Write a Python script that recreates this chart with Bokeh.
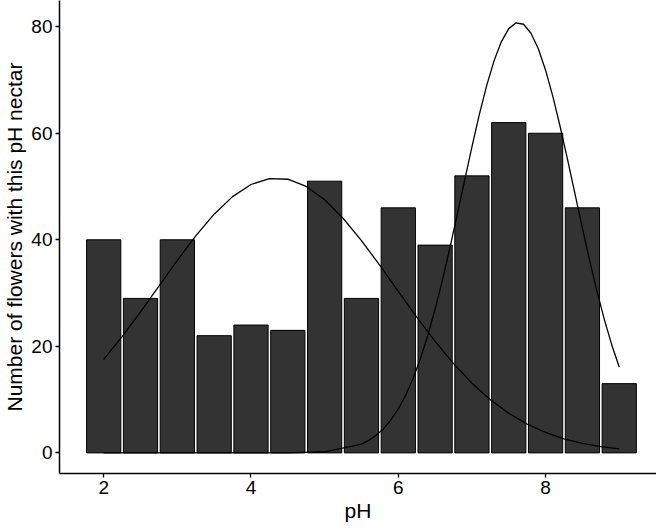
from bokeh.plotting import figure
from bokeh.models import Range1d, FixedTicker
from bokeh.embed import file_html
from bokeh.resources import INLINE

# Histogram bins (bin centres, binwidth 0.5) and counts
bin_centers = [2.0, 2.5, 3.0, 3.5, 4.0, 4.5, 5.0, 5.5, 6.0, 6.5, 7.0, 7.5, 8.0, 8.5, 9.0]
counts = [40, 29, 40, 22, 24, 23, 51, 29, 46, 39, 52, 62, 60, 46, 13]

# First fitted curve
curve1_x = [2.0, 2.25, 2.5, 2.75, 3.0, 3.25, 3.5, 3.75, 4.0, 4.25, 4.5, 4.75, 5.0, 5.25,
            5.5, 5.75, 6.0, 6.25, 6.5, 6.75, 7.0, 7.25, 7.5, 7.75, 8.0, 8.25, 8.5, 8.75, 9.0]
curve1_y = [17.55, 21.81, 26.45, 31.30, 36.15, 40.74, 44.81, 48.10, 50.38, 51.50, 51.37,
            50.01, 47.51, 44.05, 39.86, 35.19, 30.32, 25.50, 20.92, 16.76, 13.09, 9.98,
            7.43, 5.40, 3.83, 2.65, 1.79, 1.18, 0.76]

# Second fitted curve
curve2_x = [2.0, 2.5, 3.0, 3.5, 4.0, 4.5, 5.0, 5.5, 5.6, 5.7, 5.8, 5.9, 6.0, 6.1, 6.2,
            6.3, 6.4, 6.5, 6.6, 6.7, 6.8, 6.9, 7.0, 7.1, 7.2, 7.3, 7.4, 7.5, 7.6, 7.7,
            7.8, 7.9, 8.0, 8.1, 8.2, 8.3, 8.4, 8.5, 8.6, 8.7, 8.8, 8.9, 9.0]
curve2_y = [0.0, 0.0, 0.0, 0.0, 0.001, 0.018, 0.21, 1.64, 2.35, 3.30, 4.55, 6.18, 8.25,
            10.82, 13.95, 17.68, 22.03, 26.99, 32.48, 38.44, 44.71, 51.12, 57.46, 63.48,
            68.94, 73.59, 77.21, 79.64, 80.74, 80.46, 78.82, 75.90, 71.84, 66.84, 61.13,
            54.95, 48.56, 42.18, 36.01, 30.22, 24.93, 20.22, 16.12]

x_ticks = [2, 4, 6, 8]
y_ticks = [0, 20, 40, 60, 80]

FONT = "Liberation Sans"

p = figure(width=656, height=524,
           x_range=Range1d(1.40, 9.506), y_range=Range1d(-3.87, 84.92),
           output_backend="svg", toolbar_location=None,
           min_border_left=51, min_border_right=0, min_border_top=0, min_border_bottom=10)

p.vbar(x=bin_centers, top=counts, bottom=0, width=0.465,
       fill_color="#333333", line_color="black", line_width=1)
p.line(curve1_x, curve1_y, line_color="black", line_width=1.3)
p.line(curve2_x, curve2_y, line_color="black", line_width=1.3)

p.grid.visible = False
p.outline_line_color = None
p.background_fill_color = "white"
p.border_fill_color = "white"

for ax, ticks in ((p.xaxis[0], x_ticks), (p.yaxis[0], y_ticks)):
    ax.ticker = FixedTicker(ticks=ticks)
    ax.minor_tick_line_color = None
    ax.major_tick_in = 0
    ax.major_tick_out = 4
    ax.major_tick_line_width = 1.3
    ax.axis_line_width = 1.5
    ax.axis_line_color = "black"
    ax.major_tick_line_color = "black"
    ax.major_label_text_font = FONT
    ax.major_label_text_font_size = "19px"
    ax.major_label_text_color = "black"
    ax.axis_label_text_font = FONT
    ax.axis_label_text_font_size = "21px"
    ax.axis_label_text_font_style = "normal"
    ax.axis_label_text_color = "black"
    ax.major_label_standoff = 3
    ax.axis_label_standoff = 2

p.xaxis.axis_label = "pH"
p.yaxis.axis_label = "Number of flowers with this pH nectar"

open("out.html", "w").write(file_html(p, INLINE))
